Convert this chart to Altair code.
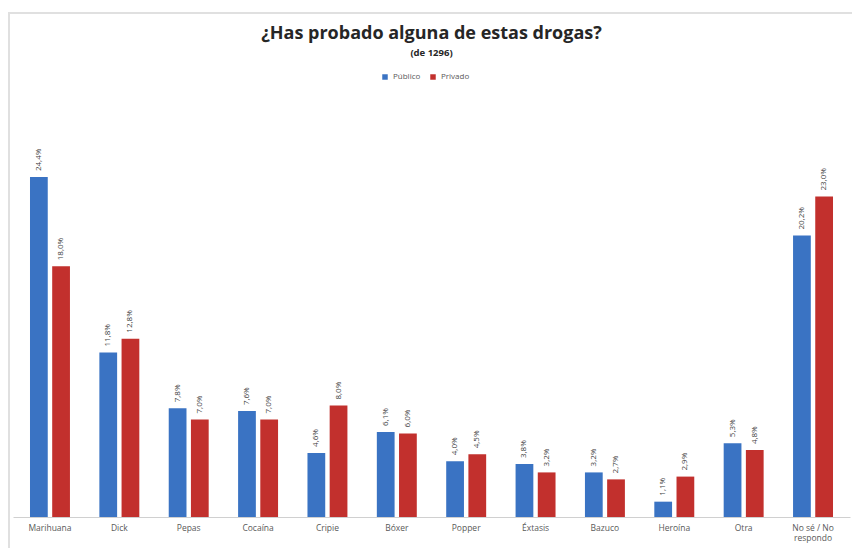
import altair as alt
import pandas as pd

categories = ["Marihuana", "Dick", "Pepas", "Cocaína", "Cripie", "Bóxer", "Popper",
              "Éxtasis", "Bazuco", "Heroína", "Otra", "No sé / No respondo"]
publico = [24.4, 11.8, 7.8, 7.6, 4.6, 6.1, 4.0, 3.8, 3.2, 1.1, 5.3, 20.2]
privado = [18.0, 12.8, 7.0, 7.0, 8.0, 6.0, 4.5, 3.2, 2.7, 2.9, 4.8, 23.0]
series = ["Público", "Privado"]
colors = ["#3a73c3", "#c2302d"]

rows = []
for i, c in enumerate(categories):
    for s, vals in zip(series, [publico, privado]):
        v = vals[i]
        rows.append({"cat": c, "serie": s, "val": v,
                     "lbl": f"{v:.1f}".replace(".", ",") + "%"})
df = pd.DataFrame(rows)

FONT = "Open Sans"

x = alt.X("cat:N", sort=categories, title=None,
          scale=alt.Scale(paddingInner=0.424, paddingOuter=0.245),
          axis=alt.Axis(labelAngle=0, labelFont=FONT, labelFontSize=8.5,
                        labelColor="#595959", ticks=False, domainColor="#d0d0d0",
                        labelPadding=6, labelLimit=200, labelLineHeight=10,
                        labelExpr="datum.value == 'No sé / No respondo' ? ['No sé / No', 'respondo'] : datum.value"))
y = alt.Y("val:Q", scale=alt.Scale(domain=[0, 30]), axis=None)
xo = alt.XOffset("serie:N", sort=series, scale=alt.Scale(paddingInner=0.2))

bars = alt.Chart(df).mark_bar().encode(
    x=x, y=y, xOffset=xo,
    color=alt.Color("serie:N", sort=series,
                    scale=alt.Scale(domain=series, range=colors),
                    legend=alt.Legend(title=None, orient="none", direction="horizontal",
                                      legendX=368, legendY=-26, symbolType="square",
                                      symbolSize=30, labelFont=FONT, labelFontSize=8,
                                      labelColor="#595959", columnPadding=8,
                                      symbolStrokeWidth=0))
)

labels = alt.Chart(df).mark_text(angle=270, align="left", baseline="middle", dx=6,
                                  font=FONT, fontSize=8, color="#404040").encode(
    x=x, y=y, xOffset=xo, text="lbl:N"
)

frame_top = alt.Chart(df).mark_rule(color="#e0e0e0", strokeWidth=2).encode(
    x=alt.value(-9), x2=alt.value(900), y=alt.value(-86))
frame_left = alt.Chart(df).mark_rule(color="#e0e0e0", strokeWidth=2).encode(
    x=alt.value(-4), y=alt.value(-86), y2=alt.value(600))

chart = alt.layer(frame_top, frame_left, bars, labels).properties(
    width=837, height=418,
    autosize=alt.AutoSizeParams(type="none"),
    padding={"left": 5, "top": 91, "right": 2, "bottom": 31},
    title=alt.TitleParams("¿Has probado alguna de estas drogas?",
                          subtitle="(de 1296)", anchor="middle", frame="group",
                          font=FONT, fontSize=18, fontWeight="bold", color="#262626",
                          subtitleFont=FONT, subtitleFontSize=9.5,
                          subtitleFontWeight="bold", subtitleColor="#262626",
                          subtitlePadding=5, offset=0, dy=45)
).configure_view(stroke=None)

chart.save("out.html", embed_options={"renderer": "svg", "actions": False})
